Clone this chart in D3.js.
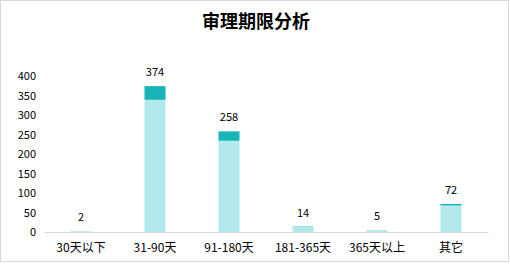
<!DOCTYPE html>
<html>
<head>
<meta charset="utf-8">
<script src="https://cdn.jsdelivr.net/npm/d3@7"></script>
<style>
  html, body { margin: 0; padding: 0; background: #fff; }
  svg { display: block; }
  text { font-family: "Noto Sans CJK SC", sans-serif; fill: #000; }
</style>
</head>
<body>
<svg id="chart" width="510" height="271"></svg>
<script>
// Case duration buckets
const categories = ["30天以下", "31-90天", "91-180天", "181-365天", "365天以上", "其它"];
// Lower (light) and upper (dark) segments of each stacked bar
const baseValues = [2, 339, 234, 13, 5, 68];
const topValues  = [0, 35, 24, 1, 0, 4];
// Totals printed above the bars
const totals = [2, 374, 258, 14, 5, 72];
const yTicks = [0, 50, 100, 150, 200, 250, 300, 350, 400];

const svg = d3.select("#chart");
const W = 510, H = 271;

// outer frame
svg.append("rect")
  .attr("x", 0.5).attr("y", 0.5)
  .attr("width", W - 2).attr("height", 261)
  .attr("fill", "#fff").attr("stroke", "#d9d9d9");

// title
svg.append("text")
  .attr("x", 256).attr("y", 28)
  .attr("text-anchor", "middle")
  .style("font-size", "18px").style("font-weight", "bold")
  .text("审理期限分析");

const x = d3.scaleBand()
  .domain(categories)
  .range([44, 488])
  .paddingInner(0.716)
  .paddingOuter(0.358);

const y = d3.scaleLinear().domain([0, 400]).range([232, 76]);

// y axis labels (no line, no ticks)
const yAxis = d3.axisLeft(y).tickValues(yTicks).tickSize(0).tickPadding(0);
const gy = svg.append("g").attr("transform", "translate(36,0)").call(yAxis);
gy.select(".domain").remove();
gy.selectAll("text")
  .style("font-size", "11px")
  .style("font-family", "'Noto Sans CJK SC', sans-serif")
  .attr("fill", "#000");

// stacked bars
const rows = categories.map((c, i) => ({ cat: c, base: baseValues[i], top: topValues[i] }));
const stack = d3.stack().keys(["base", "top"])(rows);
const colors = { base: "#b3e9ec", top: "#17b5b8" };

svg.append("g").selectAll("g")
  .data(stack)
  .join("g")
  .attr("fill", d => colors[d.key])
  .selectAll("rect")
  .data(d => d)
  .join("rect")
  .attr("x", d => x(d.data.cat))
  .attr("width", x.bandwidth())
  .attr("y", d => y(d[1]))
  .attr("height", d => Math.max(0, y(d[0]) - y(d[1])));

// x axis
const xAxis = d3.axisBottom(x).tickSize(0).tickPadding(11);
const gx = svg.append("g").attr("transform", "translate(0,232)").call(xAxis);
gx.select(".domain").attr("stroke", "#d9d9d9");
gx.selectAll("text")
  .style("font-size", "12px")
  .style("font-family", "'Noto Sans CJK SC', sans-serif")
  .attr("fill", "#000");

// total labels
svg.append("g").selectAll("text")
  .data(categories.map((c, i) => ({ cat: c, v: totals[i] })))
  .join("text")
  .attr("x", d => x(d.cat) + x.bandwidth() / 2)
  .attr("y", d => y(d.v) - 10)
  .attr("text-anchor", "middle")
  .style("font-size", "11px")
  .text(d => d.v);
</script>
</body>
</html>
